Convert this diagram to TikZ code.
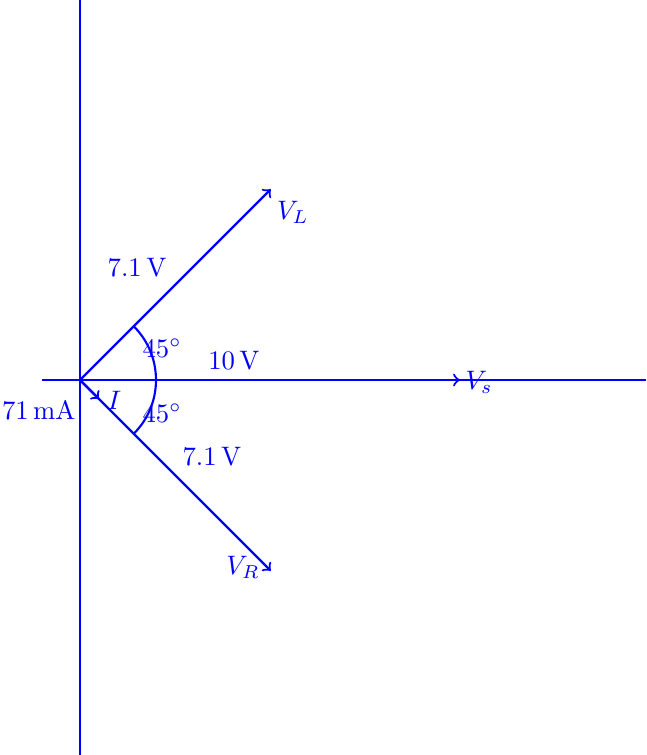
\documentclass[tikz,border=0pt]{standalone}
\usepackage{amsmath}
\usetikzlibrary{positioning,calc}

\begin{document}
\begin{tikzpicture}[x=0.5cm, y=0.5cm, thick, blue, >=to,
          axis/.style={draw, blue},
          phasor/.style={draw, blue, ->},
          lbl/.style={text=blue, inner sep=1pt}]
        \useasboundingbox (-2.105,-9.868) rectangle (14.895,10);
        \coordinate (O) at (0,0);
        \coordinate (xl) at (-1,0);
        \coordinate (xr) at (14.895,0);
        \coordinate (yt) at (0,10);
        \coordinate (yb) at (0,-9.868);
        \draw[axis] (xl) -- (xr);
        \draw[axis] (yt) -- (yb);
        % phasors
        \coordinate (Vs) at (10,0);
        \coordinate (VL) at (45:7.1);
        \coordinate (VR) at (-45:7.1);
        \coordinate (I) at (-45:0.71);
        \draw[phasor] (O) -- (Vs);
        \draw[phasor] (O) -- (VL);
        \draw[phasor] (O) -- (VR);
        \draw[phasor] (O) -- (I);
        \draw[blue] (-45:2) arc[start angle=-45, end angle=45, radius=2];
        \node[lbl] (nVs) at (10.5,-0.05) {$V_s$};
        \node[lbl] (nVL) at (5.6,4.42) {$V_L$};
        \node[lbl] (nVR) at (4.29,-4.92) {$V_R$};
        \node[lbl] (nI) at (0.9,-0.53) {$I$};
        \node[lbl, anchor=east] (nIm) at (-0.02,-0.8) {71\,mA};
        \node[lbl] (a1) at (2.16,0.84) {$45^\circ$};
        \node[lbl] (a2) at (2.16,-0.87) {$45^\circ$};
        \node[lbl] (mVs) at (4.05,0.5) {10\,V};
        \node[lbl] (mVL) at (1.5,2.95) {7.1\,V};
        \node[lbl] (mVR) at (3.47,-2.03) {7.1\,V};
      \end{tikzpicture}
\end{document}
